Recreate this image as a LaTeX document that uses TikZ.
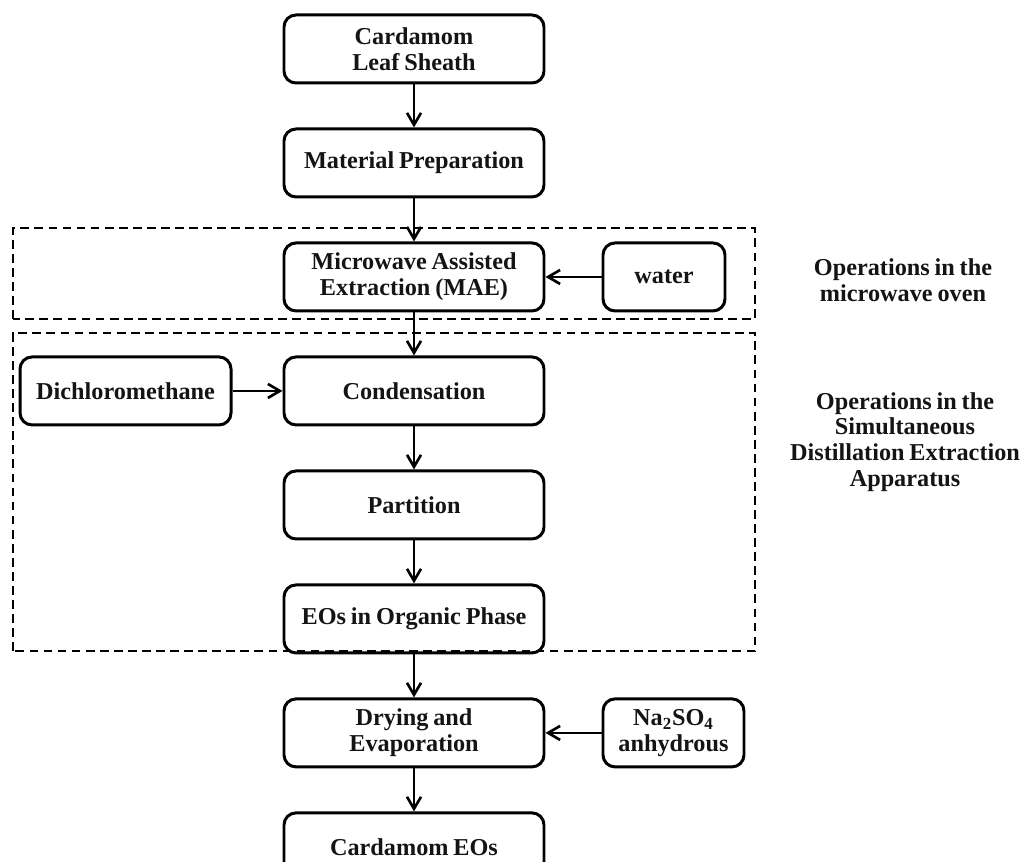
\documentclass[tikz,border=0pt]{standalone}
\usepackage{fontspec}
\setmainfont{Liberation Serif}[WordSpace=0.8]
\usepackage{tikz}
\usetikzlibrary{positioning,arrows.meta}
\definecolor{colorline}{RGB}{0,0,0}
\definecolor{colortext}{RGB}{20,20,20}

\begin{document}
\begin{tikzpicture}[
    node distance = 0.86cm, auto,
    font={\fontsize{13.8}{14.6}\selectfont\bfseries},
    base/.style={text=colortext,inner ysep=2pt,inner xsep=0.15cm,align=center,rectangle,
        rounded corners=0.24cm,draw=colorline,line width=1.7pt,minimum height=1.36cm},
    stepbox/.style={base,minimum width=5.2cm},
    note/.style={text=colortext,align=center},
    flow/.style={-{Straight Barb[length=2.4mm,width=2.8mm,line width=1.5pt]},line width=1.6pt,draw=colorline},
    frame/.style={draw=colorline,line width=1.6pt,dash pattern=on 5pt off 3pt},
]
    \useasboundingbox (0,0) rectangle (20.52,17.24);

    % dashed frames
    \draw[frame] (0.26,10.86) rectangle (15.1,12.68);
    \draw[frame] (0.26,4.22) rectangle (15.1,10.58);

    % main process
    \node[stepbox] at (8.28,16.26) (leaf) {Cardamom\\Leaf Sheath};
    \node[stepbox,below=of leaf] (prep) {Material Preparation};
    \node[stepbox,below=of prep] (mae) {Microwave Assisted\\Extraction (MAE)};
    \node[stepbox,below=of mae] (cond) {Condensation};
    \node[stepbox,below=of cond] (part) {Partition};
    \node[stepbox,below=of part] (eos) {EOs in Organic Phase};
    \node[stepbox,below=of eos] (dry) {Drying and\\Evaporation};
    \node[stepbox,below=of dry] (final) {Cardamom EOs};

    % inputs
    \node[base,minimum width=2.44cm,right=1.12cm of mae] (water) {water};
    \node[base,minimum width=4.22cm,left=1.0cm of cond] (dcm) {Dichloromethane};
    \node[base,minimum width=2.82cm,right=1.12cm of dry] (salt) {Na\textsubscript{2}SO\textsubscript{4}\\anhydrous};

    \draw[flow] (leaf) -- (prep);
    \draw[flow] (prep) -- (mae);
    \draw[flow] (mae) -- (cond);
    \draw[flow] (cond) -- (part);
    \draw[flow] (part) -- (eos);
    \draw[flow] (eos) -- (dry);
    \draw[flow] (dry) -- (final);
    \draw[flow] (water) -- (mae);
    \draw[flow] (dcm) -- (cond);
    \draw[flow] (salt) -- (dry);

    % frame labels
    \node[note] at (18.06,11.64) (ovenlabel) {Operations in the\\microwave oven};
    \node[note] at (18.1,8.4) (sdelabel) {Operations in the\\Simultaneous\\Distillation Extraction\\Apparatus};

\end{tikzpicture}
\end{document}
